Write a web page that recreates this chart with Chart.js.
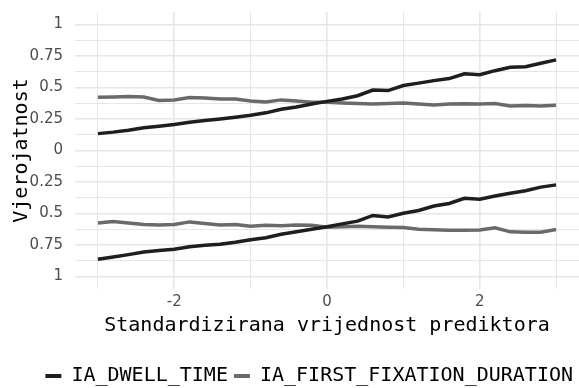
<!DOCTYPE html>
<html>
<head>
<meta charset="utf-8">
<script src="https://cdn.jsdelivr.net/npm/chart.js@4"></script>
<style>
  html, body { margin: 0; padding: 0; background: #fff; }
</style>
</head>
<body>
<canvas id="chart" width="579" height="388"></canvas>
<script>
// standardizirane vrijednosti prediktora (x)
const xs = [-3, -2.8, -2.6, -2.4, -2.2, -2, -1.8, -1.6, -1.4, -1.2, -1, -0.8, -0.6, -0.4, -0.2,
  0, 0.2, 0.4, 0.6, 0.8, 1, 1.2, 1.4, 1.6, 1.8, 2, 2.2, 2.4, 2.6, 2.8, 3];

// gornja polovica: vjerojatnost
const dwellTop = [0.134, 0.146, 0.161, 0.181, 0.193, 0.207, 0.224, 0.238, 0.250, 0.264, 0.280,
  0.299, 0.327, 0.346, 0.370, 0.390, 0.409, 0.435, 0.480, 0.476, 0.516, 0.535, 0.555, 0.571,
  0.609, 0.602, 0.634, 0.661, 0.665, 0.693, 0.720];
const fixTop = [0.423, 0.425, 0.429, 0.425, 0.398, 0.402, 0.421, 0.417, 0.409, 0.409, 0.394,
  0.386, 0.402, 0.394, 0.383, 0.384, 0.378, 0.374, 0.370, 0.374, 0.378, 0.370, 0.362, 0.370,
  0.372, 0.370, 0.374, 0.354, 0.358, 0.354, 0.360];

// donja polovica (zrcaljeno prema dolje)
const dwellBottom = [-0.864, -0.846, -0.827, -0.807, -0.795, -0.785, -0.764, -0.752, -0.744,
  -0.728, -0.709, -0.693, -0.665, -0.646, -0.626, -0.606, -0.583, -0.561, -0.516, -0.528,
  -0.498, -0.476, -0.441, -0.421, -0.380, -0.387, -0.362, -0.339, -0.319, -0.291, -0.273];
const fixBottom = [-0.575, -0.563, -0.575, -0.587, -0.591, -0.587, -0.567, -0.579, -0.591,
  -0.587, -0.602, -0.593, -0.598, -0.591, -0.594, -0.610, -0.606, -0.601, -0.606, -0.610,
  -0.612, -0.626, -0.630, -0.634, -0.634, -0.632, -0.614, -0.646, -0.650, -0.650, -0.628];

const seriesNames = ['IA_DWELL_TIME', 'IA_FIRST_FIXATION_DURATION'];
const seriesColors = ['#1e1e1e', '#6a6a6a'];

const xGrid = [-3, -2, -1, 0, 1, 2, 3];
const xLabelled = [-2, 0, 2];
const yGrid = [-1, -0.875, -0.75, -0.625, -0.5, -0.375, -0.25, -0.125, 0,
  0.125, 0.25, 0.375, 0.5, 0.625, 0.75, 0.875, 1];
const yLabelled = [-1, -0.75, -0.5, -0.25, 0, 0.25, 0.5, 0.75, 1];

const MONO = "'DejaVu Sans Mono', monospace";

const pts = arr => xs.map((x, i) => ({ x, y: arr[i] }));
const line = (label, arr, color) => ({
  label, data: pts(arr), borderColor: color, backgroundColor: color,
  borderWidth: 3.5, pointRadius: 0, tension: 0, fill: false
});

const gridColor = '#e6e6e6';

new Chart(document.getElementById('chart'), {
  type: 'line',
  data: {
    datasets: [
      line(seriesNames[0], dwellTop, seriesColors[0]),
      line(seriesNames[1], fixTop, seriesColors[1]),
      line(seriesNames[0], dwellBottom, seriesColors[0]),
      line(seriesNames[1], fixBottom, seriesColors[1])
    ]
  },
  options: {
    responsive: false,
    animation: false,
    layout: { padding: { top: 12, bottom: -8 } },
    plugins: {
      tooltip: { enabled: false },
      legend: {
        position: 'bottom',
        align: 'end',
        labels: {
          font: { family: MONO, size: 20 },
          color: '#000',
          boxWidth: 16,
          boxHeight: 4,
          padding: 6,
          filter: item => item.datasetIndex < 2,
          generateLabels: chart => Chart.defaults.plugins.legend.labels.generateLabels(chart)
            .map(it => Object.assign(it, { lineWidth: 0 }))
        }
      }
    },
    scales: {
      x: {
        type: 'linear', min: -3.3, max: 3.3,
        afterBuildTicks: s => { s.ticks = xGrid.map(v => ({ value: v })); },
        afterFit: s => { s.height = 71; },
        grid: {
          drawTicks: false,
          color: gridColor,
          lineWidth: c => xLabelled.includes(c.tick.value) ? 1.6 : 1
        },
        border: { display: false },
        ticks: {
          padding: 4,
          color: '#4d4d4d',
          font: { family: "'DejaVu Sans', sans-serif", size: 15 },
          maxRotation: 0,
          autoSkip: false,
          callback: v => xLabelled.includes(v) ? String(v) : ''
        },
        title: {
          display: true,
          text: 'Standardizirana vrijednost prediktora',
          color: '#000',
          font: { family: MONO, size: 20 },
          padding: { top: 0, bottom: 22 }
        }
      },
      y: {
        type: 'linear', min: -1.1, max: 1.1,
        afterBuildTicks: s => { s.ticks = yGrid.map(v => ({ value: v })); },
        afterFit: s => { s.width = 75; s.paddingTop = 0; s.paddingBottom = 0; },
        grid: {
          drawTicks: false,
          color: gridColor,
          lineWidth: c => yLabelled.includes(c.tick.value) ? 1.6 : 1
        },
        border: { display: false },
        ticks: {
          padding: 12,
          color: '#4d4d4d',
          font: { family: "'DejaVu Sans', sans-serif", size: 15 },
          autoSkip: false,
          callback: v => yLabelled.includes(v) ? String(Math.abs(v)) : ''
        },
        title: {
          display: true,
          text: 'Vjerojatnost',
          color: '#000',
          font: { family: MONO, size: 20 },
          padding: { top: 10, bottom: 0 }
        }
      }
    }
  }
});
</script>
</body>
</html>
